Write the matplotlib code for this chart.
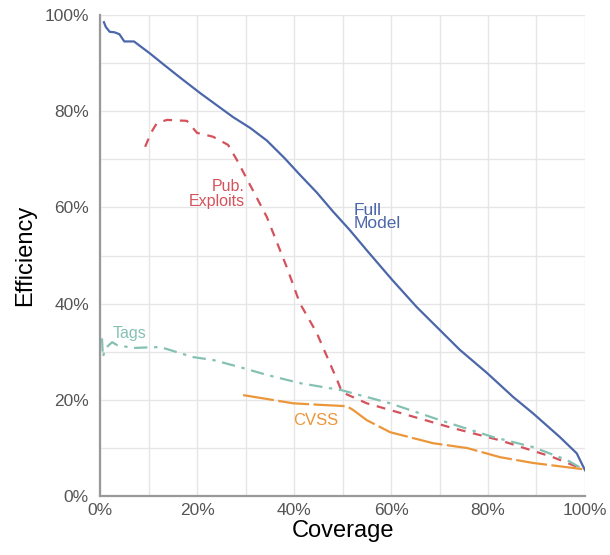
import matplotlib
matplotlib.use('Agg')
import matplotlib.pyplot as plt
from matplotlib.ticker import MultipleLocator, FuncFormatter

plt.rcParams['font.family'] = ['Liberation Sans', 'DejaVu Sans']

# coverage (%) / efficiency (%)
full_x = [0.8, 1.2, 2.0, 3.0, 4.0, 5.0, 7.0, 10.3, 13.0, 16.5, 20.6, 24.0, 27.4, 31.0, 34.4, 38.0,
          41.2, 44.7, 48.0, 51.5, 55.0, 60.2, 65.3, 70.1, 74.2, 79.8, 85.2, 89.3, 94.8, 98.3, 100.0]
full_y = [98.5, 97.5, 96.5, 96.4, 96.0, 94.5, 94.5, 92.0, 89.8, 87.0, 83.8, 81.3, 78.8, 76.5, 73.9, 70.3,
          66.8, 63.1, 59.2, 55.3, 51.1, 45.0, 39.3, 34.5, 30.4, 25.6, 20.6, 17.2, 12.3, 8.9, 5.4]

pub_x = [9.3, 10.5, 11.7, 13.8, 17.9, 20.0, 23.3, 26.4, 28.2, 31.5, 34.4, 38.5, 41.2, 44.7, 48.9,
         49.9, 55.0, 61.9, 72.2, 82.5, 93.4, 99.6]
pub_y = [72.6, 75.5, 77.5, 78.2, 78.0, 75.5, 74.7, 73.0, 69.9, 63.6, 58.0, 47.6, 40.1, 33.9, 24.1,
         21.6, 19.3, 17.3, 14.3, 11.6, 8.1, 5.6]

tags_x = [0.4, 0.6, 1.0, 1.4, 2.5, 3.5, 6.8, 12.4, 19.2, 23.3, 28.9, 34.4, 41.2, 49.9, 59.8,
          70.1, 81.0, 89.3, 96.3, 99.6]
tags_y = [32.8, 28.9, 30.5, 31.0, 32.0, 31.4, 30.8, 31.0, 28.9, 28.3, 26.8, 25.2, 23.5, 22.0, 19.3,
          15.8, 12.3, 10.2, 7.5, 5.6]

cvss_x = [29.5, 34.4, 39.8, 45.0, 50.9, 52.2, 55.0, 59.8, 68.7, 75.7, 82.5, 89.3, 99.6]
cvss_y = [21.0, 20.2, 19.3, 19.0, 18.7, 17.9, 15.8, 13.3, 11.0, 10.0, 8.1, 6.9, 5.6]

fig = plt.figure(figsize=(6.1, 5.55), dpi=100)
ax = fig.add_axes([0.164, 0.106, 0.795, 0.867])

ax.plot(full_x, full_y, color='#4c67a9', lw=1.6)
ax.plot(pub_x, pub_y, color='#d4525c', lw=1.6, dashes=(4, 3.5))
ax.plot(tags_x, tags_y, color='#85c1b3', lw=1.6, dashes=(6, 3, 1.5, 3))
ax.plot(cvss_x, cvss_y, color='#ec963a', lw=1.6, dashes=(14, 2))

ax.text(29.9, 62.8, 'Pub.\nExploits', color='#d4525c', fontsize=11.5, ha='right', va='center',
        linespacing=0.95)
ax.text(52.2, 58.0, 'Full\nModel', color='#4c67a9', fontsize=12.5, ha='left', va='center',
        linespacing=0.9)
ax.text(2.6, 33.8, 'Tags', color='#85c1b3', fontsize=11.5, ha='left', va='center')
ax.text(39.8, 15.8, 'CVSS', color='#ec963a', fontsize=12, ha='left', va='center')

ax.set_xlim(0, 100)
ax.set_ylim(0, 100)
ax.xaxis.set_major_locator(MultipleLocator(20))
ax.yaxis.set_major_locator(MultipleLocator(20))
ax.xaxis.set_minor_locator(MultipleLocator(10))
ax.yaxis.set_minor_locator(MultipleLocator(10))
pct = FuncFormatter(lambda v, p: '%d%%' % v)
ax.xaxis.set_major_formatter(pct)
ax.yaxis.set_major_formatter(pct)
ax.grid(which='both', color='#e6e6e6', lw=1.0)
ax.set_axisbelow(True)
ax.tick_params(which='both', length=0, labelsize=12.5, labelcolor='#555555')
ax.tick_params(axis='x', pad=5)
ax.tick_params(axis='y', pad=8)

for s in ['top', 'right']:
    ax.spines[s].set_visible(False)
for s in ['left', 'bottom']:
    ax.spines[s].set_color('#999999')
    ax.spines[s].set_linewidth(1.6)

ax.set_xlabel('Coverage', fontsize=17, labelpad=1)
ax.set_ylabel('Efficiency', fontsize=17, labelpad=6)

fig.savefig('out.png', dpi=100)
